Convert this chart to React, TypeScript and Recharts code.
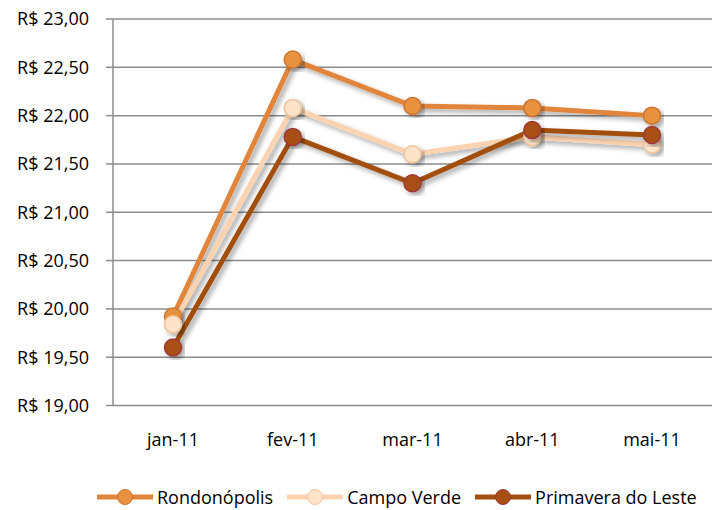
import React from "react";
import {
  LineChart,
  Line,
  XAxis,
  YAxis,
  CartesianGrid,
  Legend,
} from "recharts";

const months = ["jan-11", "fev-11", "mar-11", "abr-11", "mai-11"];
const rondonopolis = [19.92, 22.58, 22.1, 22.08, 22.0];
const campoVerde = [19.84, 22.08, 21.6, 21.78, 21.7];
const primavera = [19.6, 21.78, 21.3, 21.85, 21.8];
const yTicks = [19, 19.5, 20, 20.5, 21, 21.5, 22, 22.5, 23];
// band edges for the category tick marks
const bandEdges = [0, 1, 2, 3, 4, 5];

const data = months.map((m, i) => ({
  month: m,
  rondonopolis: rondonopolis[i],
  campoVerde: campoVerde[i],
  primavera: primavera[i],
}));

const series = [
  { key: "rondonopolis", name: "Rondonópolis", color: "#E0853B", dot: "#E8923F", dotStroke: "#CC7530" },
  { key: "campoVerde", name: "Campo Verde", color: "#FBD3B0", dot: "#FDE3C8", dotStroke: "#EFC59C" },
  { key: "primavera", name: "Primavera do Leste", color: "#A24F10", dot: "#A84F14", dotStroke: "#A0393A" },
];

const font = "'Open Sans', sans-serif";
const fmt = (v: number) => "R$ " + v.toFixed(2).replace(".", ",");

function LegendContent() {
  return (
    <div
      style={{
        display: "flex",
        justifyContent: "flex-start",
        paddingLeft: 97,
        height: 26,
        alignItems: "center",
        fontFamily: font,
        fontSize: 18,
        color: "#000",
      }}
    >
      {series.map((s) => (
        <div key={s.key} style={{ display: "flex", alignItems: "center", marginRight: 14 }}>
          <svg width={56} height={20}>
            <line x1={0} y1={10} x2={56} y2={10} stroke={s.color} strokeWidth={5} />
            <circle cx={28} cy={10} r={7.5} fill={s.dot} stroke={s.dotStroke} strokeWidth={1} />
          </svg>
          <span style={{ marginLeft: 4, lineHeight: "26px" }}>{s.name}</span>
        </div>
      ))}
    </div>
  );
}

export default function App() {
  return (
    <div style={{ position: "absolute", left: 0, top: 0, background: "#fff" }}>
      <LineChart
        width={721}
        height={510}
        data={data}
        margin={{ top: 19, right: 9, bottom: 0, left: 0 }}
      >
        <defs>
          <filter id="shadow" x="-10%" y="-10%" width="130%" height="130%">
            <feDropShadow dx="3" dy="3" stdDeviation="2.5" floodColor="#000" floodOpacity="0.35" />
          </filter>
        </defs>
        <CartesianGrid vertical={false} stroke="#8C8C8C" strokeWidth={1.5} />
        <XAxis
          xAxisId="edges"
          type="number"
          domain={[0, 5]}
          ticks={bandEdges}
          allowDataOverflow
          height={0}
          stroke="#8C8C8C"
          strokeWidth={1.5}
          tickSize={6}
          tickFormatter={() => ""}
        />
        <XAxis
          dataKey="month"
          padding={{ left: 60, right: 60 }}
          axisLine={false}
          tickLine={false}
          tickSize={0}
          tickMargin={28}
          height={78.5}
          tick={{ fill: "#000", fontSize: 18, fontFamily: font }}
        />
        <YAxis
          domain={[19, 23]}
          ticks={yTicks}
          tickFormatter={fmt}
          width={113}
          stroke="#8C8C8C"
          strokeWidth={1.5}
          tickSize={7}
          tickMargin={17}
          tick={{ fill: "#000", fontSize: 18, fontFamily: font }}
        />
        <Legend verticalAlign="bottom" content={<LegendContent />} />
        {series.map((s) => (
          <Line
            key={s.key}
            type="linear"
            dataKey={s.key}
            name={s.name}
            stroke={s.color}
            strokeWidth={5}
            filter="url(#shadow)"
            dot={{ r: 8.5, fill: s.dot, stroke: s.dotStroke, strokeWidth: 1.5, filter: "url(#shadow)" }}
            isAnimationActive={false}
          />
        ))}
      </LineChart>
    </div>
  );
}
